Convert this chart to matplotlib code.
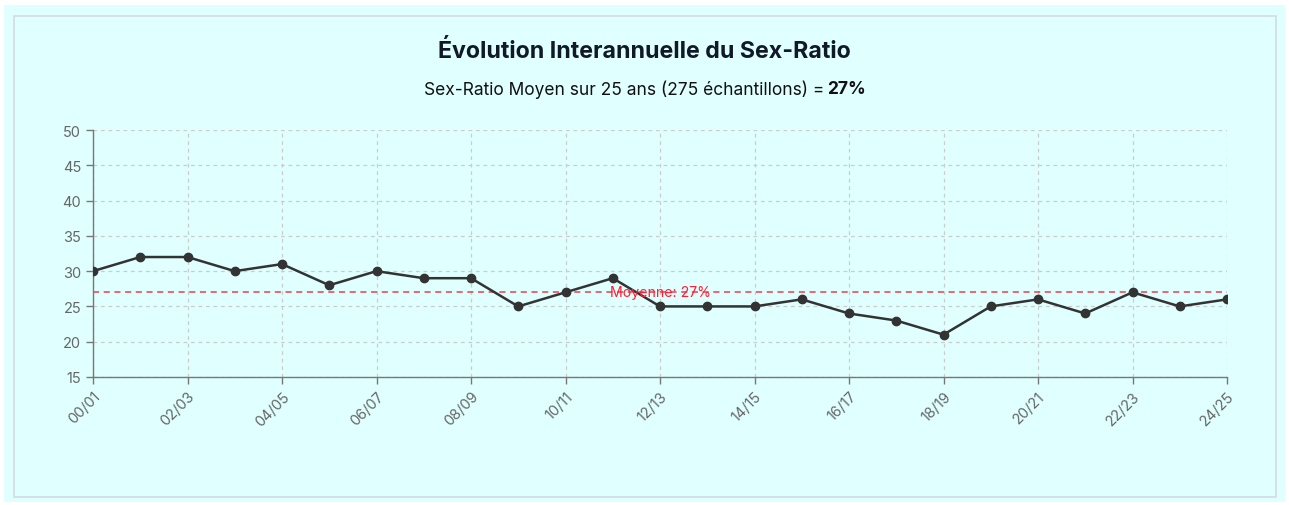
import matplotlib.pyplot as plt
from matplotlib.patches import Rectangle
import numpy as np

# data
saisons = ['00/01', '01/02', '02/03', '03/04', '04/05', '05/06', '06/07', '07/08',
           '08/09', '09/10', '10/11', '11/12', '12/13', '13/14', '14/15', '15/16',
           '16/17', '17/18', '18/19', '19/20', '20/21', '21/22', '22/23', '23/24',
           '24/25']
ratio = [30, 32, 32, 30, 31, 28, 30, 29, 29, 25, 27, 29, 25, 25, 25, 26,
         24, 23, 21, 25, 26, 24, 27, 25, 26]
moyenne = 27
n_echantillons = 275

plt.rcParams['font.family'] = ['Inter', 'DejaVu Sans']

W, H = 1289, 506
fig = plt.figure(figsize=(W / 100, H / 100), dpi=100)
fig.patch.set_facecolor('white')

# outer cyan card and inner bordered box
fig.patches.append(Rectangle((4 / W, 3 / H), 1281 / W, 497 / H, transform=fig.transFigure,
                             facecolor='#e0ffff', edgecolor='none', zorder=-2))
fig.patches.append(Rectangle((14 / W, 8 / H), 1262 / W, 481 / H, transform=fig.transFigure,
                             facecolor='#e0ffff', edgecolor='#d3dde0', linewidth=1.2, zorder=-1))

ax = fig.add_axes([93 / W, 1 - 378 / H, (1227 - 93) / W, (378 - 131) / H])
ax.set_facecolor('none')

x = np.arange(len(saisons))
ax.plot(x, ratio, color='#333333', linewidth=1.8, marker='o', markersize=6, zorder=3)
ax.axhline(moyenne, color='#e8404f', linestyle=(0, (4, 3)), linewidth=1.1, zorder=2)
ax.text(len(saisons) // 2, moyenne, f'Moyenne: {moyenne}%', color='#ff1f33', fontsize=10.2,
        ha='center', va='center', zorder=4)

ax.set_xlim(0, len(saisons) - 1)
ax.set_ylim(15, 50)
ax.set_yticks(np.arange(15, 51, 5))
ax.set_xticks(x[::2])
ax.set_xticklabels(saisons[::2], rotation=45, ha='right', rotation_mode='anchor')

ax.grid(True, color='#cccccc', linestyle=(0, (3, 3)), linewidth=0.9)
for s in ['top', 'right']:
    ax.spines[s].set_visible(False)
for s in ['left', 'bottom']:
    ax.spines[s].set_color('#777777')
    ax.spines[s].set_linewidth(1)
ax.tick_params(colors='#777777', labelcolor='#666666', labelsize=10.5, length=5, width=1)

# title and subtitle
fig.text(0.5, 1 - 52 / H, 'Évolution Interannuelle du Sex-Ratio', ha='center', va='center',
         fontsize=16.7, fontweight='bold', color='#111827')

fig.canvas.draw()
r = fig.canvas.get_renderer()
part1 = f'Sex-Ratio Moyen sur 25 ans ({n_echantillons} échantillons) ='
part2 = f'{moyenne}%'
t1 = fig.text(0, 1 - 90 / H, part1, ha='left', va='center', fontsize=12.5, color='#111111')
t2 = fig.text(0, 1 - 90 / H, part2, ha='left', va='center', fontsize=12.5,
              fontweight='bold', color='#111111')
gap = 3
w1 = t1.get_window_extent(r).width
w2 = t2.get_window_extent(r).width
x0 = (W - (w1 + gap + w2)) / 2
t1.set_x(x0 / W)
t2.set_x((x0 + w1 + gap) / W)

fig.savefig('out.png', dpi=100, facecolor=fig.get_facecolor())
